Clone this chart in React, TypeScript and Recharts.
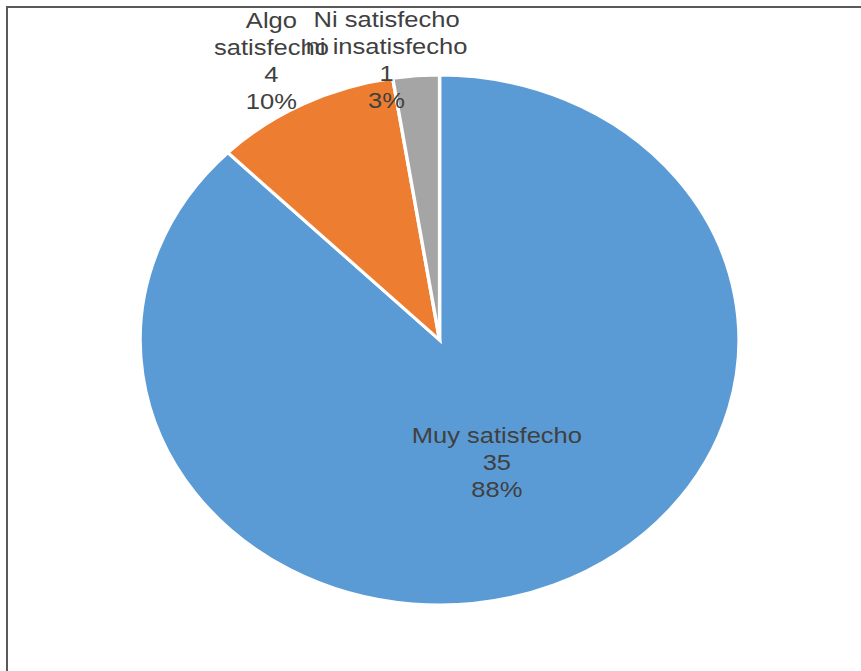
import React from "react";
import { PieChart, Pie, Cell } from "recharts";

const categories = ["Muy satisfecho", "Algo satisfecho", "Ni satisfecho ni insatisfecho"];
const labelLines = [["Muy satisfecho"], ["Algo", "satisfecho"], ["Ni satisfecho", "ni insatisfecho"]];
const values = [35, 4, 1];
const percents = ["88%", "10%", "3%"];
const colors = ["#5B9BD5", "#ED7D31", "#A5A5A5"];

const data = categories.map((name, i) => ({ name, value: values[i] }));

const SX = 1.13;
const RAD = Math.PI / 180;
// [radius factor, angle offset in degrees]
const labelPlacement = [
  [0.5, 0],
  [1.196, 1],
  [1.072, 5],
];

const renderLabel = (props: any) => {
  const { cx, cy, midAngle, outerRadius, index } = props;
  const [f, da] = labelPlacement[index];
  const a = (midAngle + da) * RAD;
  const x = cx + outerRadius * f * Math.cos(a);
  const y = cy - outerRadius * f * Math.sin(a);
  const lines = [...labelLines[index], String(values[index]), percents[index]];
  const lh = 27;
  const y0 = y - ((lines.length - 1) * lh) / 2;
  return (
    <text
      x={x}
      y={y}
      textAnchor="middle"
      fill="#404040"
      fontFamily="'Liberation Sans', Arial, sans-serif"
      fontSize={22.6}
    >
      {lines.map((l, i) => (
        <tspan key={i} x={x} y={y0 + i * lh} dominantBaseline="central">
          {l}
        </tspan>
      ))}
    </text>
  );
};

export default function App() {
  return (
    <div
      style={{
        position: "absolute",
        left: 0,
        top: 0,
        width: 861,
        height: 671,
        background: "#fff",
        overflow: "hidden",
      }}
    >
      <div
        style={{
          position: "absolute",
          left: 0,
          top: 0,
          transform: `scaleX(${SX})`,
          transformOrigin: "0 0",
        }}
      >
        <PieChart width={762} height={671} margin={{ top: 0, right: 0, bottom: 0, left: 0 }}>
          <Pie
            data={data}
            dataKey="value"
            nameKey="name"
            cx={389}
            cy={340}
            outerRadius={265}
            startAngle={90}
            endAngle={-270}
            stroke="#fff"
            strokeWidth={3}
            label={renderLabel}
            labelLine={false}
            isAnimationActive={false}
          >
            {data.map((d, i) => (
              <Cell key={d.name} fill={colors[i]} />
            ))}
          </Pie>
        </PieChart>
      </div>
      <div
        style={{
          position: "absolute",
          left: 6,
          top: 6,
          width: 900,
          height: 700,
          borderTop: "2px solid #5a5a5a",
          borderLeft: "2px solid #5a5a5a",
        }}
      />
    </div>
  );
}
